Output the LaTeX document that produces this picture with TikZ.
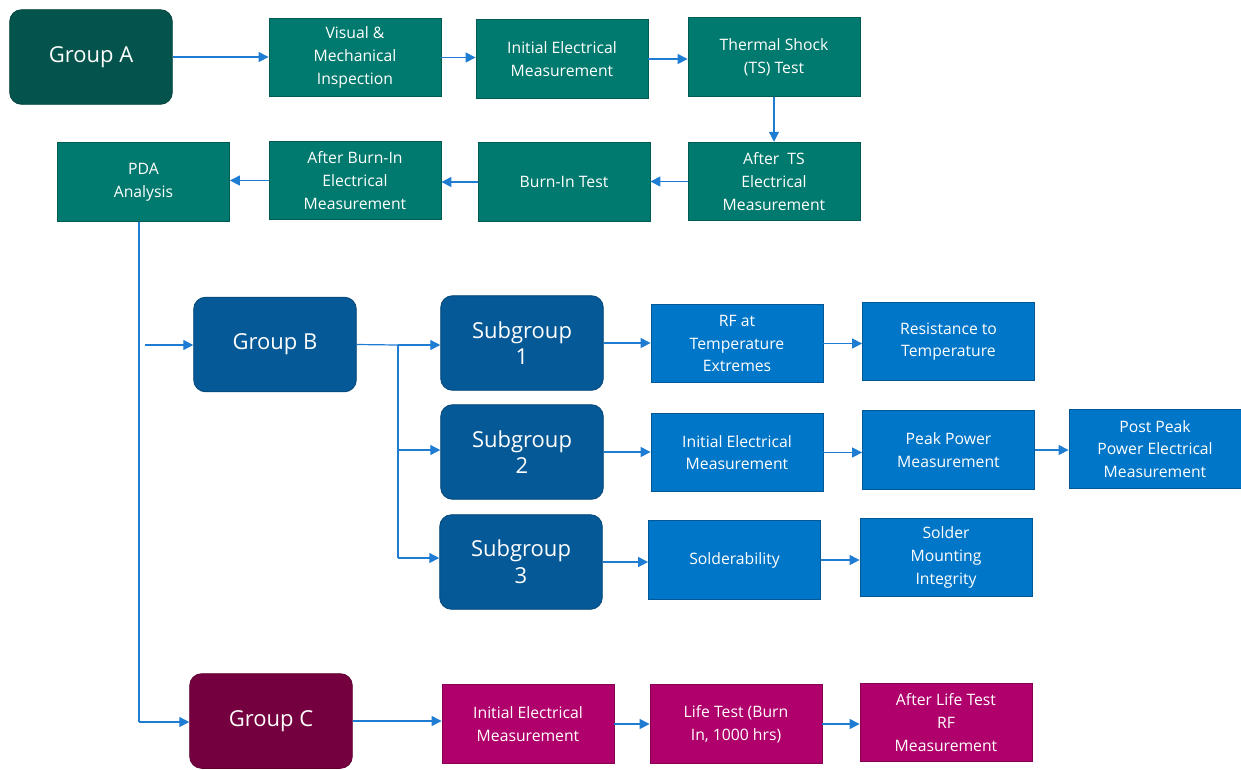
\documentclass[tikz,border=0pt]{standalone}
\usepackage{fontspec}
\setmainfont{Open Sans}
\usetikzlibrary{positioning,arrows.meta}

\definecolor{tealdark}{RGB}{4,84,77}
\definecolor{tealbox}{RGB}{0,122,110}
\definecolor{bluedark}{RGB}{5,89,150}
\definecolor{bluebox}{RGB}{0,118,200}
\definecolor{plumdark}{RGB}{117,0,63}
\definecolor{plumbox}{RGB}{176,0,107}
\definecolor{flowline}{RGB}{30,125,210}

\tikzset{
  step box/.style={rectangle,text=white,align=center,font=\fontsize{11.8}{17}\selectfont,
    minimum width=129pt,minimum height=59pt,inner sep=1pt,line width=0.6pt},
  group box/.style={rectangle,rounded corners=9pt,text=white,align=center,
    font=\fontsize{16.5}{20}\selectfont,
    minimum width=122pt,minimum height=71pt,inner sep=1pt,line width=0.6pt},
  flow/.style={draw=flowline,line width=0.9pt,-{Triangle[length=7.5pt,width=7.5pt]}},
  link/.style={draw=flowline,line width=0.9pt}
}

\begin{document}
\begin{tikzpicture}[x=0.75pt,y=-0.75pt]
\useasboundingbox (0,0) rectangle (1241,769);

% group A
\node[group box,fill=tealdark,draw=tealdark!80!black] (grpA) at (91,57) {Group A};
\node[step box,fill=tealbox,draw=tealbox!75!black] (visual) at (355,57.5) {Visual \&\\Mechanical\\Inspection};
\node[step box,fill=tealbox,draw=tealbox!75!black] (initA) at (562,59) {Initial Electrical\\Measurement};
\node[step box,fill=tealbox,draw=tealbox!75!black] (shock) at (774,57) {Thermal Shock\\(TS) Test};
\node[step box,fill=tealbox,draw=tealbox!75!black] (afterTS) at (774,181.5) {After~~TS\\Electrical\\Measurement};
\node[step box,fill=tealbox,draw=tealbox!75!black] (burnin) at (564,182) {Burn-In Test};
\node[step box,fill=tealbox,draw=tealbox!75!black] (afterBI) at (355,180.5) {After Burn-In\\Electrical\\Measurement};
\node[step box,fill=tealbox,draw=tealbox!75!black] (pda) at (143.5,182) {PDA\\Analysis};

\draw[flow] (grpA) -- (grpA -| visual.west);
\draw[flow] (visual) -- (visual -| initA.west);
\draw[flow] (initA) -- (initA -| shock.west);
\draw[flow] (shock) -- (afterTS);
\draw[flow] (afterTS) -- (afterTS -| burnin.east);
\draw[flow] (burnin) -- (burnin -| afterBI.east);
\draw[flow] (afterBI) -- (afterBI -| pda.east);

% group B
\node[group box,fill=bluedark,draw=bluedark!80!black] (grpB) at (275,344.5) {Group B};
\node[group box,fill=bluedark,draw=bluedark!80!black] (sub1) at (522,343) {Subgroup\\1};
\node[group box,fill=bluedark,draw=bluedark!80!black] (sub2) at (522,452) {Subgroup\\2};
\node[group box,fill=bluedark,draw=bluedark!80!black] (sub3) at (521,562) {Subgroup\\3};
\node[step box,fill=bluebox,draw=bluebox!75!black] (rfTemp) at (737,343.5) {RF at\\Temperature\\Extremes};
\node[step box,fill=bluebox,draw=bluebox!75!black] (resist) at (948.5,341.5) {Resistance to\\Temperature};
\node[step box,fill=bluebox,draw=bluebox!75!black] (initB) at (737,452.5) {Initial Electrical\\Measurement};
\node[step box,fill=bluebox,draw=bluebox!75!black] (peak) at (948.5,450) {Peak Power\\Measurement};
\node[step box,fill=bluebox,draw=bluebox!75!black] (postPeak) at (1155,449) {Post Peak\\Power Electrical\\Measurement};
\node[step box,fill=bluebox,draw=bluebox!75!black] (solder) at (734.5,560) {Solderability};
\node[step box,fill=bluebox,draw=bluebox!75!black] (mount) at (946,557.5) {Solder\\Mounting\\Integrity};

\coordinate (split) at (398,345);
\draw[link] (grpB.east) -- (split);
\draw[flow] (split) -- (split -| sub1.west);
\draw[link] (split) -- (398,558);
\draw[flow] (398,450) -- (398,450 -| sub2.west);
\draw[flow] (398,558) -- (398,558 -| sub3.west);
\draw[flow] (sub1) -- (sub1 -| rfTemp.west);
\draw[flow] (rfTemp) -- (rfTemp -| resist.west);
\draw[flow] (sub2) -- (sub2 -| initB.west);
\draw[flow] (initB) -- (initB -| peak.west);
\draw[flow] (peak) -- (peak -| postPeak.west);
\draw[flow] (sub3) -- (sub3 -| solder.west);
\draw[flow] (solder) -- (solder -| mount.west);

% group C
\node[group box,fill=plumdark,draw=plumdark!80!black] (grpC) at (271,721) {Group C};
\node[step box,fill=plumbox,draw=plumbox!75!black] (initC) at (528,724) {Initial Electrical\\Measurement};
\node[step box,fill=plumbox,draw=plumbox!75!black] (life) at (736,724) {Life Test (Burn\\In, 1000 hrs)};
\node[step box,fill=plumbox,draw=plumbox!75!black] (afterLife) at (946,722.5) {After Life Test\\RF\\Measurement};

\coordinate (tapB) at (145,345);
\draw[link] (pda.south -| 139,0) -- (139,722);
\draw[flow] (139,722) -- (grpC.west |- 139,722);
\draw[flow] (tapB) -- (tapB -| grpB.west);
\draw[flow] (grpC) -- (grpC -| initC.west);
\draw[flow] (initC) -- (initC -| life.west);
\draw[flow] (life) -- (life -| afterLife.west);
\end{tikzpicture}
\end{document}
